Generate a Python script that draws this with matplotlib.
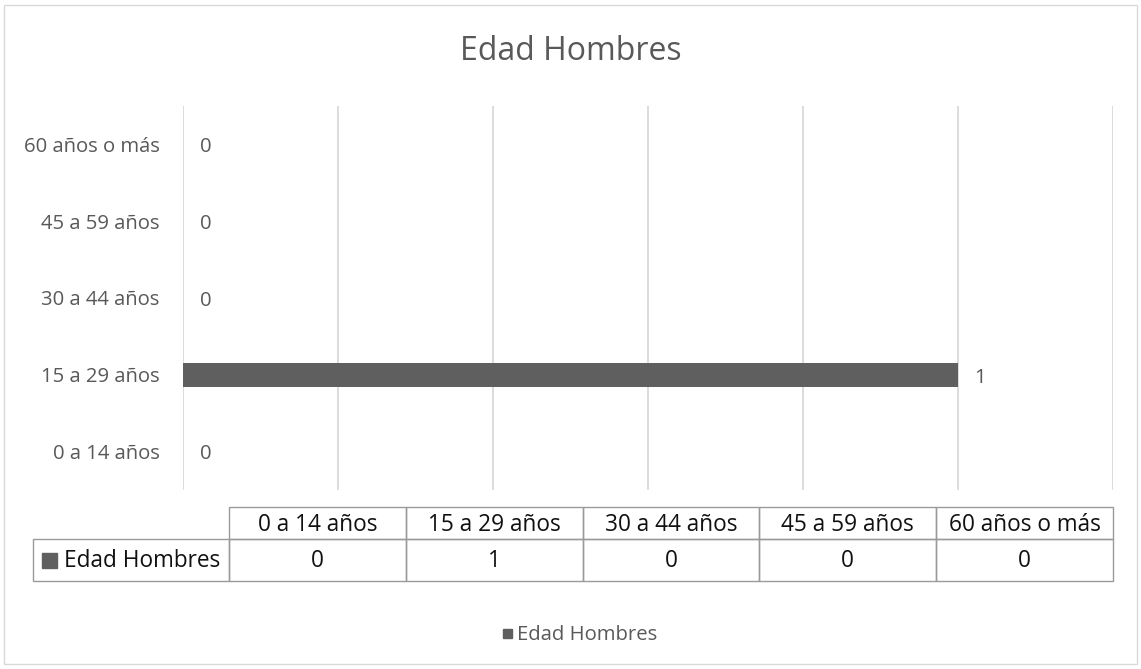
import matplotlib
matplotlib.use("Agg")
import matplotlib.pyplot as plt
from matplotlib.patches import Rectangle

plt.rcParams['font.family'] = ['Open Sans', 'DejaVu Sans']

# data
categories = ['0 a 14 años', '15 a 29 años', '30 a 44 años', '45 a 59 años', '60 años o más']
values = [0, 1, 0, 0, 0]
series_name = 'Edad Hombres'
title = 'Edad Hombres'

W, H = 1141, 669
bar_color = '#5f5f5f'
text_gray = '#595959'
grid_gray = '#d9d9d9'


def box(x0, y0, x1, y1):
    # pixel box (top-left origin) -> figure fraction
    return [x0 / W, 1 - y1 / H, (x1 - x0) / W, (y1 - y0) / H]


fig = plt.figure(figsize=(W / 100, H / 100), dpi=100)
fig.patches.append(Rectangle((4 / W, 5 / H), 1133 / W, 659 / H, transform=fig.transFigure,
                             fill=False, edgecolor=grid_gray, lw=1))

# bar chart
ax = fig.add_axes(box(183, 106, 1113, 490))
ypos = list(range(len(categories)))
ax.barh(ypos, values, height=0.32, color=bar_color, zorder=2)
ax.set_xlim(0, 1.2)
ax.set_ylim(-0.5, len(categories) - 0.5)
ax.set_xticks([0, 0.2, 0.4, 0.6, 0.8, 1.0, 1.2])
ax.xaxis.grid(True, color=grid_gray, lw=1.3, zorder=0)
ax.tick_params(axis='x', length=0, labelbottom=False)
ax.set_yticks(ypos)
ax.set_yticklabels(categories, color=text_gray, fontsize=14.6)
ax.tick_params(axis='y', length=0, pad=17)
for s in ax.spines.values():
    s.set_visible(False)
for y, v in zip(ypos, values):
    ax.annotate(str(v), (v, y), xytext=(12, -2), textcoords='offset points',
                ha='left', va='center', color=text_gray, fontsize=14.6)

fig.text(0.5, 1 - 52 / H, title, ha='center', va='center', fontsize=23, color=text_gray)

# data table below the chart
tax = fig.add_axes(box(0, 0, W, H))
tax.set_xlim(0, W)
tax.set_ylim(H, 0)
tax.axis('off')
edge = '#9a9a9a'
tx0, tx1 = 229, 1113
lab_x0 = 33
r0, r1, r2 = 507, 539, 581
cw = (tx1 - tx0) / len(categories)
for i, (cat, v) in enumerate(zip(categories, values)):
    cx = tx0 + i * cw
    tax.add_patch(Rectangle((cx, r0), cw, r1 - r0, fill=False, edgecolor=edge, lw=1))
    tax.add_patch(Rectangle((cx, r1), cw, r2 - r1, fill=False, edgecolor=edge, lw=1))
    tax.text(cx + cw / 2, (r0 + r1) / 2 + 2, cat, ha='center', va='center', fontsize=16.3, color='#111111')
    tax.text(cx + cw / 2, (r1 + r2) / 2 + 1, str(v), ha='center', va='center', fontsize=16.3, color='#111111')
tax.add_patch(Rectangle((lab_x0, r1), tx0 - lab_x0, r2 - r1, fill=False, edgecolor=edge, lw=1))
tax.add_patch(Rectangle((42, 553), 15, 15, color=bar_color))
tax.text(64, (r1 + r2) / 2 + 1, series_name, ha='left', va='center', fontsize=16.3, color='#111111')

# legend
tax.add_patch(Rectangle((503, 629), 9, 9, color=bar_color))
tax.text(517, 635, series_name, ha='left', va='center', fontsize=14.6, color=text_gray)

fig.savefig('out.png', dpi=100)
